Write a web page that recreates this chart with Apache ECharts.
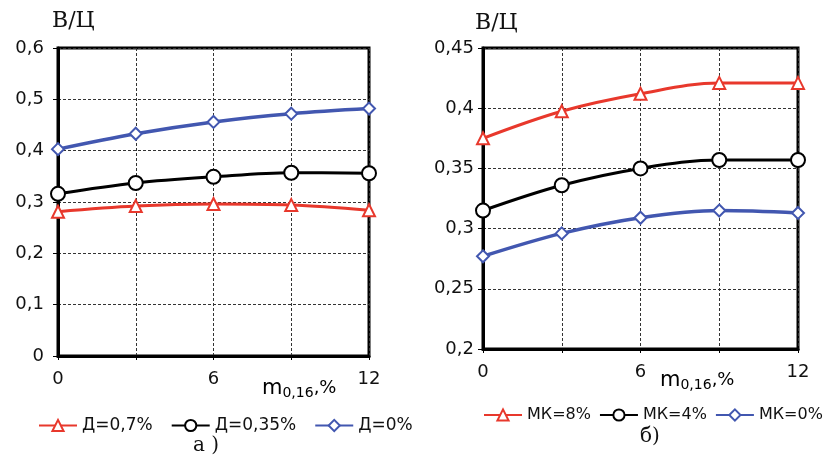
<!DOCTYPE html>
<html>
<head>
<meta charset="UTF-8">
<title>В/Ц</title>
<style>
  html, body { margin: 0; padding: 0; background: #fff; }
  #chart { width: 828px; height: 458px; }
</style>
</head>
<body>
<div id="chart"></div>
<script src="https://cdn.jsdelivr.net/npm/echarts@6/dist/echarts.min.js"></script>
<script>
// x: m0,16, %
var xValues = [0, 3, 6, 9, 12];
var xTickLabels = ['0', '', '6', '', '12'];

// chart a) - Д
var namesA = ['Д=0,7%', 'Д=0,35%', 'Д=0%'];
var d07  = [0.281, 0.292, 0.296, 0.294, 0.284];
var d035 = [0.316, 0.337, 0.349, 0.357, 0.356];
var d0   = [0.403, 0.433, 0.456, 0.472, 0.482];

// chart б) - МК
var namesB = ['МК=8%', 'МК=4%', 'МК=0%'];
var mk8 = [0.375, 0.3975, 0.412, 0.421, 0.421];
var mk4 = [0.315, 0.336, 0.350, 0.357, 0.357];
var mk0 = [0.277, 0.296, 0.309, 0.315, 0.313];

var RED = '#e8382c', BLACK = '#000', BLUE = '#4257b0';
var FONT = 'DejaVu Sans';

function pairs(ys) { return xValues.map(function (x, i) { return [x, ys[i]]; }); }

function comma(v) { return String(+v.toFixed(2)).replace('.', ','); }

function xAxisCfg(gi) {
  return {
    type: 'value', gridIndex: gi, min: 0, max: 12, interval: 3,
    axisLine: { show: true, lineStyle: { color: '#000', width: 3 } },
    axisTick: { show: true, length: 4, lineStyle: { color: '#000' } },
    axisLabel: {
      margin: 14, color: '#111', fontFamily: FONT, fontSize: 18,
      formatter: function (v) { return xTickLabels[xValues.indexOf(v)] || ''; }
    },
    splitLine: { show: true, lineStyle: { color: '#333', type: [3, 2], width: 1 } }
  };
}

function yAxisCfg(gi, min, max, step, margin) {
  return {
    type: 'value', gridIndex: gi, min: min, max: max, interval: step,
    axisLine: { show: true, lineStyle: { color: '#000', width: 3 } },
    axisTick: { show: true, length: 5, lineStyle: { color: '#000' } },
    axisLabel: { margin: margin, color: '#111', fontFamily: FONT, fontSize: 18, formatter: comma },
    splitLine: { show: true, lineStyle: { color: '#333', type: [3, 2], width: 1 } }
  };
}

function line(name, ys, color, symbol, size, gi, width) {
  return {
    name: name, type: 'line', xAxisIndex: gi, yAxisIndex: gi,
    data: pairs(ys), smooth: 0.35,
    symbol: symbol, symbolSize: size, showAllSymbol: true,
    lineStyle: { color: color, width: width },
    itemStyle: { color: color, borderColor: color, borderWidth: 2 },
    clip: false, z: 3
  };
}

function legendCfg(names, left, top, w, gap, fs) {
  return {
    data: names, left: left, top: top, width: w, itemWidth: 38, itemHeight: 14, itemGap: gap,
    textStyle: { fontFamily: FONT, fontSize: fs, color: '#111' }
  };
}

var rich = {
  m: { fontFamily: FONT, fontSize: 21, color: '#111' },
  s: { fontFamily: FONT, fontSize: 14, color: '#111', padding: [9, 0, 0, 0] },
  p: { fontFamily: FONT, fontSize: 18, color: '#111' }
};

var chart = echarts.init(document.getElementById('chart'));
chart.setOption({
  backgroundColor: '#fff',
  animation: false,
  grid: [
    { left: 58, top: 48, width: 311, height: 308, show: true, borderColor: '#000', borderWidth: 3, backgroundColor: '#fff' },
    { left: 483, top: 48, width: 315, height: 301, show: true, borderColor: '#000', borderWidth: 3, backgroundColor: '#fff' }
  ],
  xAxis: [xAxisCfg(0), xAxisCfg(1)],
  yAxis: [yAxisCfg(0, 0, 0.6, 0.1, 14), yAxisCfg(1, 0.2, 0.45, 0.05, 9)],
  legend: [
    legendCfg(namesA, 33, 412, 420, 18, 17),
    legendCfg(namesB, 478, 402, 345, 8, 16)
  ],
  series: [
    line(namesA[0], d07, RED, 'emptyTriangle', 12, 0, 3),
    line(namesA[1], d035, BLACK, 'emptyCircle', 14, 0, 3),
    line(namesA[2], d0, BLUE, 'emptyDiamond', 12, 0, 3.5),
    line(namesB[0], mk8, RED, 'emptyTriangle', 12, 1, 3),
    line(namesB[1], mk4, BLACK, 'emptyCircle', 14, 1, 3),
    line(namesB[2], mk0, BLUE, 'emptyDiamond', 12, 1, 3.5)
  ],
  graphic: [
    { type: 'text', left: 52, top: 10, style: { text: 'В/Ц', font: '22px "DejaVu Serif"', fill: '#111' } },
    { type: 'text', left: 475, top: 12, style: { text: 'В/Ц', font: '22px "DejaVu Serif"', fill: '#111' } },
    { type: 'text', left: 262, top: 378, style: { text: '{m|m}{s|0,16}{p|,%}', rich: rich } },
    { type: 'text', left: 660, top: 370, style: { text: '{m|m}{s|0,16}{p|,%}', rich: rich } },
    { type: 'text', left: 193, top: 436, style: { text: 'а )', font: '20px "DejaVu Serif"', fill: '#111' } },
    { type: 'text', left: 640, top: 427, style: { text: 'б)', font: '20px "DejaVu Serif"', fill: '#111' } }
  ]
});
</script>
</body>
</html>
